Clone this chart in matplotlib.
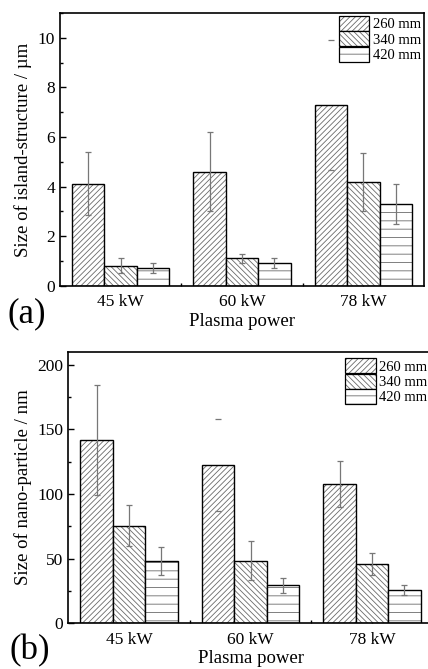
import numpy as np
import matplotlib
matplotlib.use("Agg")
import matplotlib.pyplot as plt
from matplotlib.patches import Patch
from matplotlib.colors import to_rgba
from matplotlib.ticker import MultipleLocator, FixedLocator

plt.rcParams['font.family'] = ['Liberation Serif', 'DejaVu Serif']
plt.rcParams['hatch.linewidth'] = 0.6

categories = ["45 kW", "60 kW", "78 kW"]
series = ["260 mm", "340 mm", "420 mm"]
hatches = ["//////", "\\\\\\\\\\\\", "--"]

# (a) island-structure size, µm
island_vals = [[4.12, 4.6, 7.28], [0.8, 1.1, 4.2], [0.7, 0.9, 3.3]]
island_err = [[1.27, 1.6, 2.62], [0.3, 0.2, 1.17], [0.2, 0.2, 0.8]]
island_line = [[True, True, False], [True, True, True], [True, True, True]]

# (b) nano-particle size, nm
nano_vals = [[141.5, 122.5, 107.5], [75.5, 48.5, 45.8], [48.3, 29.5, 25.5]]
nano_err = [[42.6, 35.5, 17.8], [16.0, 15.0, 8.6], [11.0, 5.7, 4.0]]
nano_line = [[True, False, True], [True, True, True], [True, True, True]]

HATCH_COLOR = '#6a6a6a'


def set_hatch_color(p, c):
    if hasattr(p, 'set_hatchcolor'):
        p.set_hatchcolor(c)
    else:
        p._hatch_color = to_rgba(c)


def panel(ax, vals, errs, lines, ylim, ymajor, yminor, ylabel, leg_anchor):
    x = np.arange(len(categories))
    w = 0.267
    for i in range(len(series)):
        xi = x + (i - 1) * w
        bars = ax.bar(xi, vals[i], w, facecolor='white', edgecolor='black',
                      linewidth=1.0, hatch=hatches[i], zorder=2)
        for p in bars:
            set_hatch_color(p, HATCH_COLOR)
        for j in range(len(categories)):
            el = ax.errorbar(xi[j], vals[i][j], yerr=errs[i][j], fmt='none',
                             ecolor='#777777', elinewidth=0.9 if lines[i][j] else 0,
                             capsize=2.5, capthick=0.9, zorder=3)
            for cl in el[1]:
                cl.set_color('#444444')
    ax.set_xlim(-0.5, 2.5)
    ax.set_ylim(*ylim)
    ax.set_xticks(x)
    ax.set_xticklabels(categories, fontsize=12)
    ax.xaxis.set_minor_locator(FixedLocator([0.5, 1.5]))
    ax.yaxis.set_major_locator(MultipleLocator(ymajor))
    ax.yaxis.set_minor_locator(MultipleLocator(yminor))
    ax.tick_params(which='both', direction='in', labelsize=12.5)
    ax.tick_params(which='major', length=4, width=1)
    ax.tick_params(which='minor', length=2.5, width=1)
    ax.tick_params(axis='x', which='both', top=False, pad=6)
    ax.tick_params(axis='y', which='both', right=False)
    for s in ax.spines.values():
        s.set_linewidth(1.2)
    ax.set_xlabel("Plasma power", fontsize=13.5, labelpad=2)
    ax.set_ylabel(ylabel, fontsize=13.5, labelpad=4)
    handles = []
    for i in range(len(series)):
        h = Patch(facecolor='white', edgecolor='black', linewidth=0.9,
                  hatch=hatches[i], label=series[i])
        set_hatch_color(h, HATCH_COLOR)
        handles.append(h)
    ax.legend(handles=handles, loc='upper left', bbox_to_anchor=leg_anchor,
              frameon=False, fontsize=10.5, borderaxespad=0, borderpad=0,
              handlelength=2.1, handleheight=1.2, labelspacing=0.0,
              handletextpad=0.25)


fig = plt.figure(figsize=(4.28, 6.69), dpi=100)
ax1 = fig.add_axes([0.1402, 0.5729, 0.8505, 0.4076])
ax2 = fig.add_axes([0.1596, 0.0683, 0.8516, 0.4060])

panel(ax1, island_vals, island_err, island_line, (0, 11), 2, 1,
      "Size of island-structure / µm", (0.766, 0.989))
panel(ax2, nano_vals, nano_err, nano_line, (0, 210), 50, 25,
      "Size of nano-particle / nm", (0.759, 0.976))

fig.text(0.018, 0.518, "(a)", fontsize=25, va='baseline', ha='left')
fig.text(0.022, 0.003, "(b)", fontsize=25, va='bottom', ha='left')

fig.savefig("out.png", dpi=100)
